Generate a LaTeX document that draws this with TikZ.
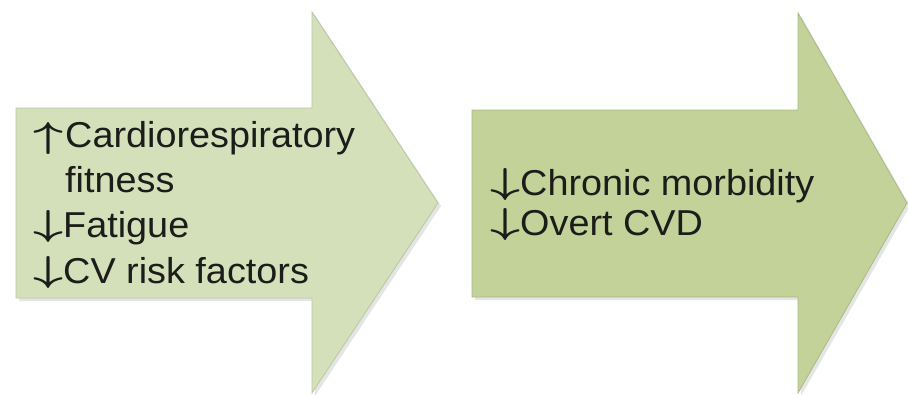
\RequirePackage{fix-cm}
\documentclass[tikz,border=0pt]{standalone}
\usepackage{graphicx}
\usepackage{fontspec}
\setmainfont{Liberation Sans}[FakeStretch=1.05]
\newcommand{\uparr}{\scalebox{1.45}[1]{\boldmath$\uparrow$}\hspace{2pt}}
\newcommand{\downarr}{\raisebox{2pt}{\scalebox{1.45}[1]{\boldmath$\downarrow$}}}
\definecolor{paleolive}{RGB}{212,224,186}
\definecolor{olivegreen}{RGB}{194,210,153}
\definecolor{inkgray}{RGB}{28,28,26}
\tikzset{
  blockarrow/.style={fill=#1, draw=#1!88!black, line width=0.8pt},
  arrowshadow/.style={fill=black, opacity=0.10},
  listtext/.style={anchor=base west, align=left, inner sep=0pt, text=inkgray},
}

\begin{document}
\begin{tikzpicture}[x=1pt,y=-1pt]
\useasboundingbox (0,0) rectangle (908,394);
% shadows
\fill [arrowshadow, shift={(3,3)}] (16,108) -- (312,108) -- (312,12) -- (438,203) -- (312,393) -- (312,298) -- (16,298) -- cycle;
\fill [arrowshadow, shift={(3,3)}] (472,110) -- (798,110) -- (798,13) -- (907,203) -- (798,393) -- (798,297) -- (472,297) -- cycle;
% arrows
\draw [blockarrow=paleolive] (16,108) -- (312,108) -- (312,12) -- (438,203) -- (312,393) -- (312,298) -- (16,298) -- cycle;
\draw [blockarrow=olivegreen] (472,110) -- (798,110) -- (798,13) -- (907,203) -- (798,393) -- (798,297) -- (472,297) -- cycle;
% texts (base = last line)
\node [listtext, font=\fontsize{36}{45.3}\selectfont] (gains) at (33,283)
  {\uparr Cardiorespiratory\\\phantom{\uparr}fitness\\\downarr Fatigue\\\downarr CV risk factors};
\node [listtext, font=\fontsize{36}{40}\selectfont] (outcomes) at (490,235)
  {\downarr Chronic morbidity\\\downarr Overt CVD};
\end{tikzpicture}
\end{document}
